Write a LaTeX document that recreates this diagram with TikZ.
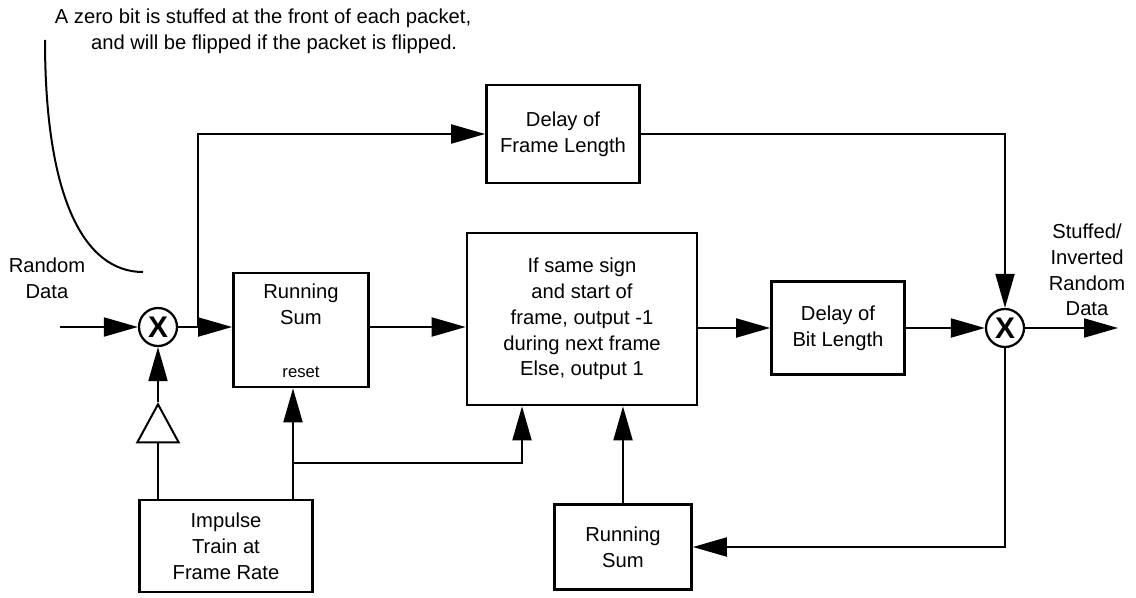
\documentclass[tikz,border=0pt]{standalone}
\usepackage{fontspec}
\setmainfont{Liberation Sans}
\usetikzlibrary{arrows.meta,shapes.geometric}

\tikzset{
	block/.style={draw, line width=0.55mm, align=center, inner sep=0pt, font=\fontsize{11.5}{14.7}\selectfont},
	mult/.style={draw, circle, line width=0.45mm, minimum size=0.76cm, inner sep=0pt, font=\fontsize{17}{17}\selectfont\bfseries},
	conn/.style={line width=0.4mm, -{Triangle[length=0.68cm,width=0.38cm]}},
	wire/.style={line width=0.4mm},
	txt/.style={align=center, font=\fontsize{11.5}{14.7}\selectfont}
}

\begin{document}
\begin{tikzpicture}[x=0.02cm, y=-0.02cm]
	\useasboundingbox (0,0) rectangle (1136,598);
	
	\node[txt] (note) at (263,31) {A zero bit is stuffed at the front of each packet,\\ \hspace*{1.1em}and will be flipped if the packet is flipped.};
	\draw[wire] (45,40) .. controls (45,200) and (85,272) .. (143,272);
	
	\node[txt] (rdata) at (47,278) {Random\\Data};
	\node[txt] (sdata) at (1087,270) {Stuffed/\\Inverted\\Random\\Data};
	
	\node[mult] (mulA) at (158,327) {X};
	\node[mult] (mulB) at (1005,328) {X};
	
	\node[block, minimum width=2.7cm, minimum height=2.28cm] (runA) at (301,330) {};
	\node[txt] (runAtxt) at ([yshift=0.52cm]runA.center) {Running\\Sum};
	\node[font=\fontsize{9.5}{11}\selectfont] (rstxt) at ([yshift=-0.84cm]runA.center) {reset};
	
	\node[block, minimum width=3.06cm, minimum height=1.96cm] (delF) at (563,134) {Delay of\\Frame Length};
	\node[block, minimum width=4.6cm, minimum height=3.44cm] (cond) at (582,319) {If same sign\\and start of\\frame, output -1\\during next frame\\Else, output 1};
	\node[block, minimum width=2.66cm, minimum height=1.86cm] (delB) at (838,328) {Delay of\\Bit Length};
	\node[block, minimum width=2.74cm, minimum height=1.7cm] (runB) at (623,547) {Running\\Sum};
	\node[block, minimum width=3.46cm, minimum height=1.84cm] (imp) at (226,546) {Impulse\\Train at\\Frame Rate};
	
	\node[draw, isosceles triangle, shape border rotate=90, isosceles triangle apex angle=57, minimum height=0.76cm, inner sep=0pt, line width=0.4mm] (tri) at (158,430) {};
	
	\coordinate (inp) at (60,327);
	\coordinate (out) at (1118,328);
	\coordinate (split) at (198,327);
	\coordinate (rst) at (293,463);
	
	\draw[conn] (inp) -- (mulA);
	\draw[conn] (mulA) -- (mulA -| runA.west);
	\draw[conn] (split) |- (delF.west);
	\draw[conn] (delF.east) -| (mulB.north);
	\draw[conn] (runA.east |- mulA) -- (cond.west |- mulA);
	\draw[conn] (cond.east |- delB) -- (delB.west);
	\draw[conn] (delB.east) -- (mulB.west |- delB);
	\draw[conn] (mulB.east) -- (out);
	\draw[conn] (mulB.south) |- (runB.east);
	\draw[conn] (runB.north) -- (cond.south -| runB.north);
	
	\draw[wire] (imp.north -| tri.lower side) -- (tri.lower side);
	\draw[conn] (tri.apex) -- (mulA.south);
	\draw[conn] (rst |- imp.north) -- (rst |- runA.south);
	\draw[conn] (rst) -| ([xshift=-1.2cm]cond.south);
	
\end{tikzpicture}
\end{document}
